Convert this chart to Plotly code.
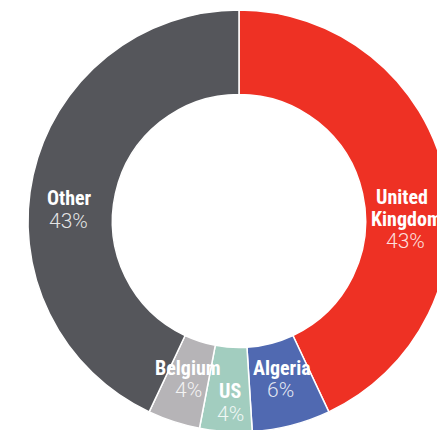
import plotly.graph_objects as go

categories = ["United Kingdom", "Algeria", "US", "Belgium", "Other"]
name_lines = [["United", "Kingdom"], ["Algeria"], ["US"], ["Belgium"], ["Other"]]
shares = [43, 6, 4, 4, 43]
colors = ["#EE3124", "#5069B1", "#A2CDBF", "#B6B4B7", "#55565B"]

W, H = 478, 442
cx, cy, r = 239, 221, 211

fig = go.Figure(go.Pie(
    labels=categories,
    values=shares,
    sort=False,
    direction="clockwise",
    rotation=0,
    hole=0.6,
    textinfo="none",
    hoverinfo="label+percent",
    marker=dict(colors=colors, line=dict(color="white", width=1.5)),
    domain=dict(x=[(cx - r) / W, (cx + r) / W], y=[(H - cy - r) / H, (H - cy + r) / H]),
    showlegend=False,
))

# label positions (pixels): name line centres, pct centre
label_pos = {
    "United Kingdom": ([(402, 197), (406, 219)], (405, 241)),
    "Algeria": ([(282, 368)], (280, 390)),
    "US": ([(230, 391)], (230, 414)),
    "Belgium": ([(188, 368)], (188, 390)),
    "Other": ([(69, 198)], (68, 221)),
}
name_font = dict(family="Roboto Condensed, Roboto, Liberation Sans, sans-serif",
                 size=20, color="white", weight=700)
pct_font = dict(family="Roboto, Liberation Sans, sans-serif", size=21, weight=300,
                color="rgba(255,255,255,0.85)")

ann = []
for cat, lines, v in zip(categories, name_lines, shares):
    npos, (px, py) = label_pos[cat]
    for line, (nx, ny) in zip(lines, npos):
        ann.append(dict(x=nx / W, y=1 - ny / H, xref="paper", yref="paper", text=line,
                        showarrow=False, font=name_font, xanchor="center", yanchor="middle",
                        borderpad=0))
    ann.append(dict(x=px / W, y=1 - py / H, xref="paper", yref="paper", text=f"{v}%",
                    showarrow=False, font=pct_font, xanchor="center", yanchor="middle",
                    borderpad=0))

fig.update_layout(
    width=W, height=H,
    margin=dict(l=0, r=0, t=0, b=0),
    paper_bgcolor="white",
    annotations=ann,
)

fig.write_html("out.html", config={"displayModeBar": False}, post_script=(
    "document.body.style.margin='0';document.body.style.overflow='hidden';"
    "document.documentElement.style.overflow='hidden';"
))
